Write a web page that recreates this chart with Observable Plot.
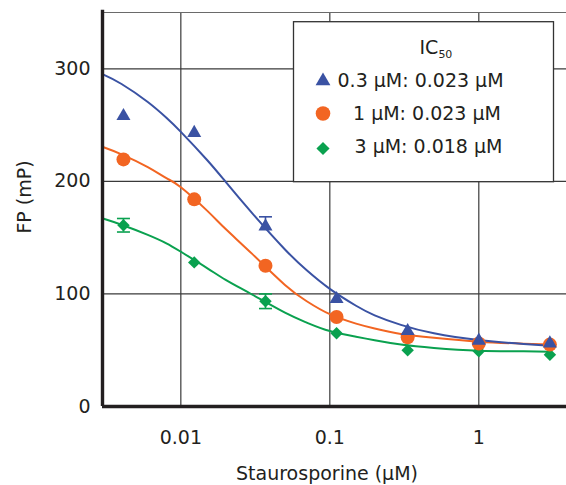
<!DOCTYPE html>
<html><head><meta charset="utf-8">
<script src="https://cdn.jsdelivr.net/npm/d3@7"></script>
<script src="https://cdn.jsdelivr.net/npm/@observablehq/plot@0.6"></script>
<style>
body{margin:0;background:#fff;}
#chart{width:566px;height:485px;}
</style></head><body><div id="chart"></div>
<script>
// ---- data ----
const seriesNames = ["0.3 µM", "1 µM", "3 µM"];
const legendLabels = ["0.3 µM: 0.023 µM", "1 µM: 0.023 µM", "3 µM: 0.018 µM"];
const conc = [0.00412, 0.0123, 0.037, 0.111, 0.333, 1, 3];
const fp03 = [258, 243, 160, 95.5, 67, 58.5, 56];
const fp1  = [219.5, 184, 125, 79.5, 61.5, 56, 55];
const fp3  = [161, 128, 93.5, 65, 50, 49, 46];
// error bars (upper / lower half-lengths)
const errUp03 = [0, 0, 8.5, 0, 0, 0, 0];
const errDn03 = [0, 0, 0, 0, 0, 0, 0];
const errUp1  = [0, 0, 0, 0, 0, 0, 0];
const errDn1  = [0, 0, 0, 0, 0, 0, 0];
const errUp3  = [6, 0, 6.5, 0, 0, 0, 0];
const errDn3  = [6, 0, 6.5, 0, 0, 0, 0];
// fitted curves
const fitConc = [0.003, 0.004, 0.006, 0.008, 0.01, 0.015, 0.02, 0.03, 0.05, 0.07, 0.1, 0.15, 0.2, 0.3, 0.5, 1, 2, 3];
const fit03 = [295, 286.5, 270.5, 256.5, 244, 219, 199.5, 172, 139.5, 121, 104.5, 89.5, 81, 72.5, 65, 59, 55.5, 54];
const fit1  = [230.5, 224, 212.6, 202.8, 194.8, 174, 157.6, 135.8, 108, 93.5, 82, 73.6, 69.3, 64.5, 61, 57.6, 55.8, 55];
const fit3  = [167, 161.5, 152.5, 145, 137.5, 123, 112.5, 99.5, 83.3, 74.5, 67, 62, 58.8, 55, 52, 49.6, 49, 48.7];
const xTicks = [0.01, 0.1, 1];
const yTicks = [0, 100, 200, 300];
const xTitle = "Staurosporine (µM)";
const yTitle = "FP (mP)";
const legendTitle = "IC";
const legendSub = "50";

// ---- styles ----
const colors = ["#3a52a3", "#f26522", "#0aa14f"];
const symbols = ["triangle", "circle", "diamond2"];
const radii = [5.2, 7, 5.6];
const ink = "#231f20";
const font = "'DejaVu Sans', sans-serif";

const vals = [fp03, fp1, fp3];
const ups = [errUp03, errUp1, errUp3], dns = [errDn03, errDn1, errDn3];
const fits = [fit03, fit1, fit3];
const points = seriesNames.map((s, i) => conc.map((c, j) => ({series: s, conc: c, fp: vals[i][j], up: ups[i][j], dn: dns[i][j]})));
const fitRows = seriesNames.map((s, i) => fitConc.map((c, j) => ({series: s, conc: c, fp: fits[i][j]})));
const errRows = points.flat().filter(d => d.up > 0 || d.dn > 0);
const capRows = errRows.flatMap(d => [
  ...(d.dn > 0 ? [{...d, y: d.fp - d.dn}] : []),
  ...(d.up > 0 ? [{...d, y: d.fp + d.up}] : [])
]);
const capSymbol = {draw(ctx) { ctx.moveTo(-6.5, 0); ctx.lineTo(6.5, 0); }};

const order = [2, 1, 0]; // green, orange, blue on top
const xDomain = [0.00298, 3.878];

const plot = Plot.plot({
  width: 566, height: 485,
  marginLeft: 102, marginRight: 0, marginTop: 12, marginBottom: 79,
  style: {fontFamily: font, fontSize: "19px", color: ink, background: "#fff"},
  x: {type: "log", domain: xDomain},
  y: {domain: [0, 350]},
  color: {domain: seriesNames, range: colors},
  marks: [
    Plot.gridX(xTicks, {stroke: "#3a3a3a", strokeOpacity: 1, strokeWidth: 1.2}),
    Plot.gridY(yTicks.slice(1), {stroke: "#3a3a3a", strokeOpacity: 1, strokeWidth: 1.2}),
    Plot.gridY([350], {stroke: "#6a6a6a", strokeOpacity: 1, strokeWidth: 1.2}),
    Plot.axisX(xTicks, {tickSize: 0, tickPadding: 24, tickFormat: d3.format("~g"), label: null, fontSize: 19, fill: ink}),
    Plot.axisY(yTicks, {tickSize: 0, tickPadding: 12, label: null, fontSize: 19, fill: ink}),
    ...order.map(i => Plot.line(fitRows[i], {x: "conc", y: "fp", stroke: colors[i], strokeWidth: 2, curve: "natural"})),
    Plot.ruleX(errRows, {x: "conc", y1: d => d.fp - d.dn, y2: d => d.fp + d.up, stroke: "series", strokeWidth: 1.6}),
    Plot.dot(capRows, {x: "conc", y: "y", symbol: capSymbol, stroke: "series", strokeWidth: 1.6, r: 5}),
    ...order.map(i => Plot.dot(points[i], {x: "conc", y: "fp", symbol: symbols[i], fill: colors[i], stroke: "none", r: radii[i]})),
    Plot.ruleX([xDomain[0]], {y1: 0, y2: 352, stroke: ink, strokeWidth: 3.4}),
    Plot.ruleY([0], {stroke: ink, strokeWidth: 3.4})
  ]
});

const svg = d3.select(plot);
// axis titles
svg.append("text").attr("x", 327).attr("y", 480).attr("text-anchor", "middle")
  .attr("fill", ink).style("font-family", font).style("font-size", "19px").text(xTitle);
svg.append("text").attr("transform", "translate(30.5,197) rotate(-90)").attr("text-anchor", "middle")
  .attr("fill", ink).style("font-family", font).style("font-size", "19px").text(yTitle);

// legend
const lg = svg.append("g").style("font-family", font).attr("fill", ink).attr("text-anchor", "start");
lg.append("rect").attr("x", 293.5).attr("y", 21.7).attr("width", 260).attr("height", 160)
  .attr("fill", "#fff").attr("stroke", "#333").attr("stroke-width", 1.3);
const t = lg.append("text").attr("x", 419.5).attr("y", 53.5).attr("text-anchor", "start").style("font-size", "19px");
t.append("tspan").text(legendTitle);
t.append("tspan").attr("dy", 4.3).style("font-size", "11px").text(legendSub);
const symY = [81, 113.5, 148.5];
const baseY = [86.7, 120, 153.3];
const textX = [337.5, 353, 354.5];
const syms = [d3.symbolTriangle, d3.symbolCircle, d3.symbolDiamond2];
const legR = [5.5, 7.3, 5.9];
seriesNames.forEach((s, i) => {
  lg.append("path").attr("transform", `translate(323,${symY[i]})`)
    .attr("d", d3.symbol(syms[i], Math.PI * legR[i] * legR[i])()).attr("fill", colors[i]);
  lg.append("text").attr("x", textX[i]).attr("y", baseY[i]).attr("text-anchor", "start")
    .style("font-size", "19px").text(legendLabels[i]);
});

document.getElementById("chart").appendChild(plot);
</script></body></html>
